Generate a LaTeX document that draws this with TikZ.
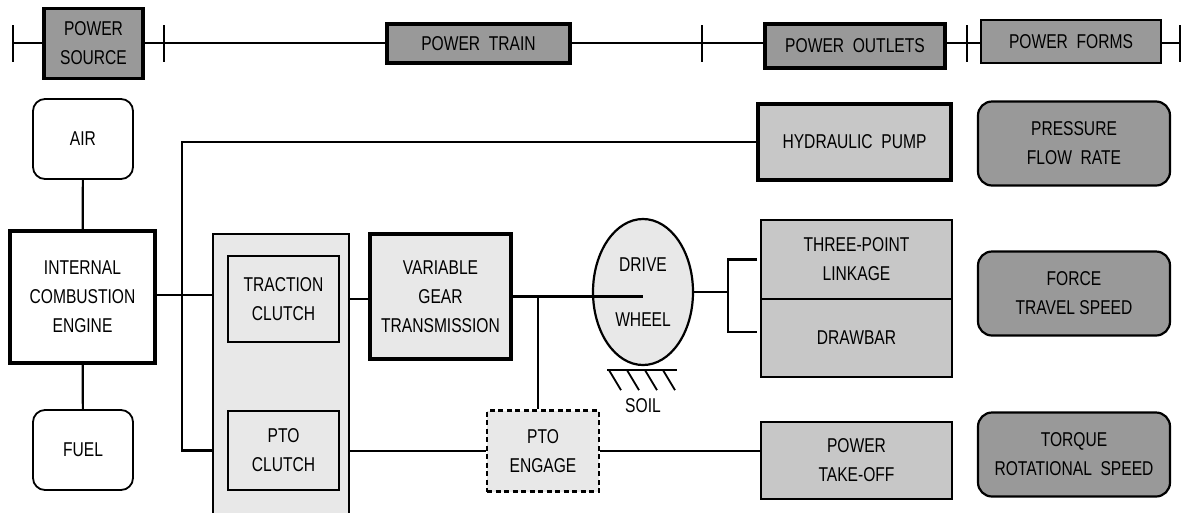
\documentclass[tikz,border=0pt]{standalone}
\usepackage{fontspec}
\setmainfont{Liberation Sans}[FakeStretch=0.78]
\usetikzlibrary{shapes.geometric}

\begin{document}
\begin{tikzpicture}[x=1pt, y=-1pt,
	txt/.style={align=center, inner sep=0pt, text=black, font=\fontsize{20}{29}\selectfont},
	blk/.style={txt, draw, line width=1.8pt},
	heavyblk/.style={blk, line width=3.2pt},
	formblk/.style={blk, line width=2.2pt, rounded corners=14pt, fill=\formColor, minimum width=192pt, minimum height=84pt},
	lnk/.style={line width=2.2pt}]
	
	\useasboundingbox (0,0) rectangle (1182,512);
	
	% ---- Adjustable colors ----
	\def\headColor{black!40}
	\def\outletColor{black!22}
	\def\lightColor{black!9}
	\def\formColor{black!40}
	
	% ---- Header bar with ticks ----
	\foreach \i/\x in {1/13, 2/164, 3/702, 4/967, 5/1180}
	{
		\coordinate (t\i) at (\x,43);
	}
	\draw[lnk] (t1) -- (t5);
	\foreach \i in {1,...,5}
	\draw[lnk] ([yshift=18pt]t\i) -- ([yshift=-19pt]t\i);
	
	\node[heavyblk, fill=\headColor, minimum width=99pt, minimum height=70pt] (psrc) at (93.5,43.5) {POWER\\SOURCE};
	\node[heavyblk, fill=\headColor, minimum width=183pt, minimum height=39pt] (ptrain) at (478.5,43.5) {POWER\ \ TRAIN};
	\node[heavyblk, fill=\headColor, minimum width=180pt, minimum height=44pt] (poutl) at (855,46) {POWER\ \ OUTLETS};
	\node[blk, line width=2.6pt, fill=\headColor, minimum width=180pt, minimum height=43pt] (pforms) at (1071,41.5) {POWER\ \ FORMS};
	
	% ---- Power source ----
	\node[blk, rounded corners=12pt, minimum width=100pt, minimum height=80pt] (air) at (83,139) {AIR};
	\node[heavyblk, minimum width=145pt, minimum height=132pt] (ice) at (82.5,297) {INTERNAL\\COMBUSTION\\ENGINE};
	\node[blk, rounded corners=12pt, minimum width=100pt, minimum height=80pt] (fuel) at (83,450) {FUEL};
	\draw[lnk] (air) -- (ice);
	\draw[lnk] (ice) -- (fuel);
	
	% ---- Clutches ----
	\node[blk, line width=2.6pt, fill=\lightColor, minimum width=136pt, minimum height=290pt] (grp) at (281,379) {};
	\node[blk, line width=2.4pt, minimum width=111pt, minimum height=86pt] (trcl) at (283.5,299) {TRACTION\\CLUTCH};
	\node[blk, minimum width=111pt, minimum height=79pt] (ptocl) at (283.5,450.5) {PTO\\CLUTCH};
	
	% ---- Transmission, wheel, PTO engage ----
	\node[heavyblk, fill=\lightColor, minimum width=141pt, minimum height=125pt] (vgt) at (440.5,296.5) {VARIABLE\\GEAR\\TRANSMISSION};
	\node[txt, ellipse, draw, line width=2.2pt, fill=\lightColor, minimum width=100pt, minimum height=146pt] (wheel) at (643,292) {DRIVE\\[26pt]WHEEL};
	\node[blk, line width=2.4pt, dash pattern=on 5pt off 3.5pt, fill=\lightColor, minimum width=112pt, minimum height=81pt] (engage) at (543,451) {PTO\\ENGAGE};
	
	% ---- Soil under the wheel ----
	\draw[line width=2.6pt] ([shift={(-36,4)}]wheel.south) -- ([shift={(34,4)}]wheel.south);
	\foreach \dx in {-34,-16,2,20}
	\draw[line width=1.8pt] ([shift={(\dx,4)}]wheel.south) -- ++(12,20);
	\node[txt] (soil) at ([yshift=-40pt]wheel.south) {SOIL};
	
	% ---- Power outlets ----
	\node[heavyblk, fill=\outletColor, minimum width=193pt, minimum height=76pt] (pump) at (854.5,142) {HYDRAULIC\ \ PUMP};
	\node[blk, fill=\outletColor, minimum width=191pt, minimum height=79pt] (tpl) at (856.5,259.5) {THREE-POINT\\LINKAGE};
	\node[blk, fill=\outletColor, minimum width=191pt, minimum height=78pt] (drawbar) at (856.5,338) {DRAWBAR};
	\node[blk, line width=2.4pt, fill=\outletColor, minimum width=191pt, minimum height=77pt] (pto) at (856.5,460.5) {POWER\\TAKE-OFF};
	
	% ---- Power forms ----
	\node[formblk] (pres) at (1074,143.5) {PRESSURE\\FLOW\ \ RATE};
	\node[formblk] (force) at (1074,293.5) {FORCE\\TRAVEL SPEED};
	\node[formblk] (torq) at (1074,454.5) {TORQUE\\ROTATIONAL\ \ SPEED};
	
	% ---- Connections ----
	\coordinate (split) at (182,295);
	\coordinate (tap) at (538,296.5);
	\coordinate (brk) at (728,292);
	\draw[lnk] (ice.east |- split) -- (grp.west |- split);
	\draw[lnk] (pump.west) -| (split) |- (grp.west |- ptocl.east);
	\draw[lnk] (grp.east |- trcl.east) -- (vgt.west |- trcl.east);
	\draw[lnk] (vgt.east) -- (vgt.east -| wheel.center);
	\draw[lnk] (tap) -- (tap |- engage.north);
	\draw[lnk] (grp.east |- engage.west) -- (engage.west);
	\draw[lnk] (engage.east) -- (engage.east -| pto.west);
	\draw[lnk] (wheel.east) -- (brk);
	\draw[lnk] ([xshift=-3pt]tpl.west) -| (brk) |- ([shift={(-3,-6)}]drawbar.west);
	
\end{tikzpicture}
\end{document}
